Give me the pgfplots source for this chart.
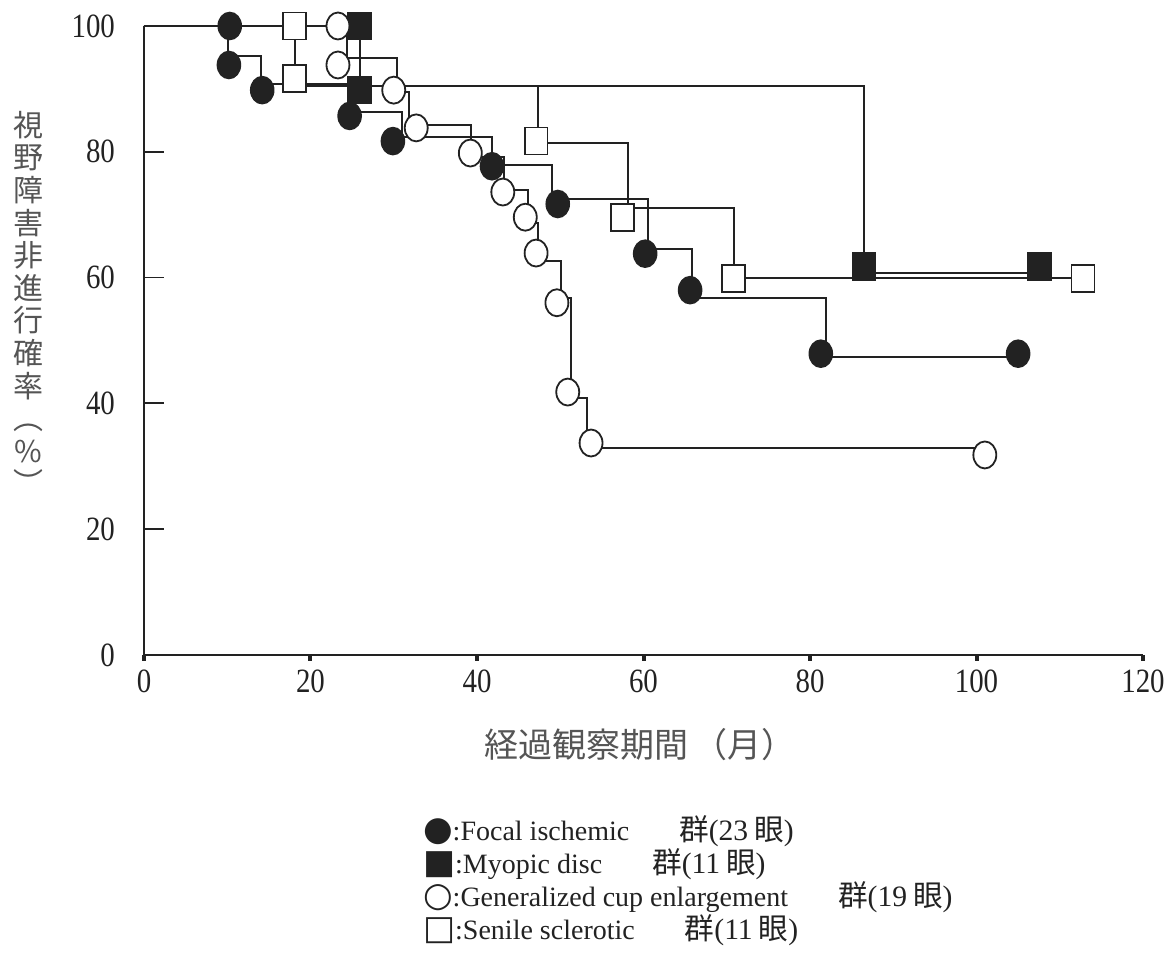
\documentclass[border=0pt]{standalone}
\usepackage{pgfplots}
\pgfplotsset{compat=1.18}
\usepackage{fontspec}
\setmainfont{Liberation Serif}
\newfontfamily\tickfont[FakeStretch=0.85]{Liberation Serif}
\newfontfamily\cjk{Noto Sans CJK JP}
\newfontfamily\sym{DejaVu Sans}
\definecolor{ink}{HTML}{222222}
\definecolor{lab}{HTML}{555555}
\newcommand{\grp}[1]{\hspace{25pt}{\fontsize{14.8}{16.5}\selectfont{\cjk 群}(#1\hspace{3pt}{\cjk 眼})}}
\begin{document}
\begin{tikzpicture}[x=1pt,y=1pt]
\useasboundingbox (0,0) rectangle (582,486.5);
\begin{axis}[
  at={(72pt,159pt)}, anchor=south west,
  scale only axis, width=499.5pt, height=314.5pt,
  xmin=0, xmax=120, ymin=0, ymax=100,
  axis lines=left, axis line style={-, line width=1.1pt, ink},
  clip=false,
  xtick={0,20,...,120}, ytick={0,20,...,100},
  major tick length=10pt,
  ytick align=inside, xtick align=outside,
  major x tick style={draw=none},
  ytick style={ink, line width=0.9pt},
  minor xtick={0,20,...,120},
  minor tick length=3pt,
  minor x tick style={ink, line width=2pt},
  tick label style={font=\tickfont\fontsize{17}{18}\selectfont, text=ink},
  /pgf/number format/assume math mode=true,
  yticklabel style={xshift=-11pt},
  xticklabel style={yshift=6pt},
]
% Focal ischemic
\addplot[const plot, ink, line width=1.1pt, no marks] coordinates {
(0,100) (10.1,95.2) (14.05,90.8) (24.5,86.3) (31.0,82.4) (41.8,77.9) (49.0,72.5) (60.5,64.5) (65.8,56.8) (81.9,47.4) (105.0,47.4)};
% Myopic disc
\addplot[const plot, ink, line width=1.1pt, no marks] coordinates {
(0,100) (25.9,90.5) (86.5,60.7) (107.6,60.7)};
% Generalized cup enlargement
\addplot[const plot, ink, line width=1.1pt, no marks] coordinates {
(0,100) (24.4,94.9) (30.4,89.5) (31.8,84.3) (39.3,79.2) (43.2,73.9) (46.1,68.7) (47.3,62.6) (50.1,56.8) (51.3,40.9) (53.2,32.9) (101.0,32.9)};
% Senile sclerotic
\addplot[const plot, ink, line width=1.1pt, no marks] coordinates {
(0,100) (18.1,90.5) (47.3,81.4) (58.1,71.1) (70.9,59.9) (112.8,59.9)};
% markers
\addplot[only marks, mark=*, mark size=6.75pt, mark options={xscale=0.85, fill=ink, draw=ink, line width=0.8pt}] coordinates {
(10.3,100) (10.2,93.8) (14.2,89.8) (24.7,85.7) (29.9,81.7) (41.8,77.7) (49.7,71.7) (60.2,63.8) (65.6,58.0) (81.3,47.9) (105.0,47.9)};
\addplot[only marks, mark=square*, mark size=6.75pt, mark options={xscale=0.85, fill=ink, draw=ink, line width=0.8pt}] coordinates {
(25.9,100) (25.9,89.8) (86.5,61.8) (107.6,61.8)};
\addplot[only marks, mark=*, mark size=6.75pt, mark options={xscale=0.85, fill=white, draw=ink, line width=0.9pt}] coordinates {
(23.3,100) (23.3,93.8) (30.0,89.8) (32.7,83.8) (39.2,79.8) (43.1,73.6) (45.8,69.6) (47.1,63.9) (49.6,56.0) (50.9,41.8) (53.7,33.7) (101.0,31.8)};
\addplot[only marks, mark=square*, mark size=6.75pt, mark options={xscale=0.85, fill=white, draw=ink, line width=0.9pt}] coordinates {
(18.1,100) (18.1,91.7) (47.1,81.7) (57.5,69.6) (70.8,59.9) (112.8,59.9)};
\end{axis}
\node[text=lab, font=\cjk\fontsize{17}{18}\selectfont] at (320,114) {経過観察期間\hspace{3pt}（月）};
\node[text=lab, align=center, font=\cjk\fontsize{15}{16.3}\selectfont] at (14,335) {視\\野\\障\\害\\非\\進\\行\\確\\率\\︵\\\%\\︶};
\node[anchor=north west, align=left, text=ink, font=\fontsize{14}{16.4}\selectfont] at (208,82) {%
{\sym\fontsize{17}{16.4}\selectfont ●}:Focal ischemic\grp{23}\\
{\sym\fontsize{17}{16.4}\selectfont ■}:Myopic disc\grp{11}\\
{\sym\fontsize{17}{16.4}\selectfont ○}:Generalized cup enlargement\grp{19}\\
{\sym\fontsize{17}{16.4}\selectfont □}:Senile sclerotic\grp{11}};
\end{tikzpicture}
\end{document}
